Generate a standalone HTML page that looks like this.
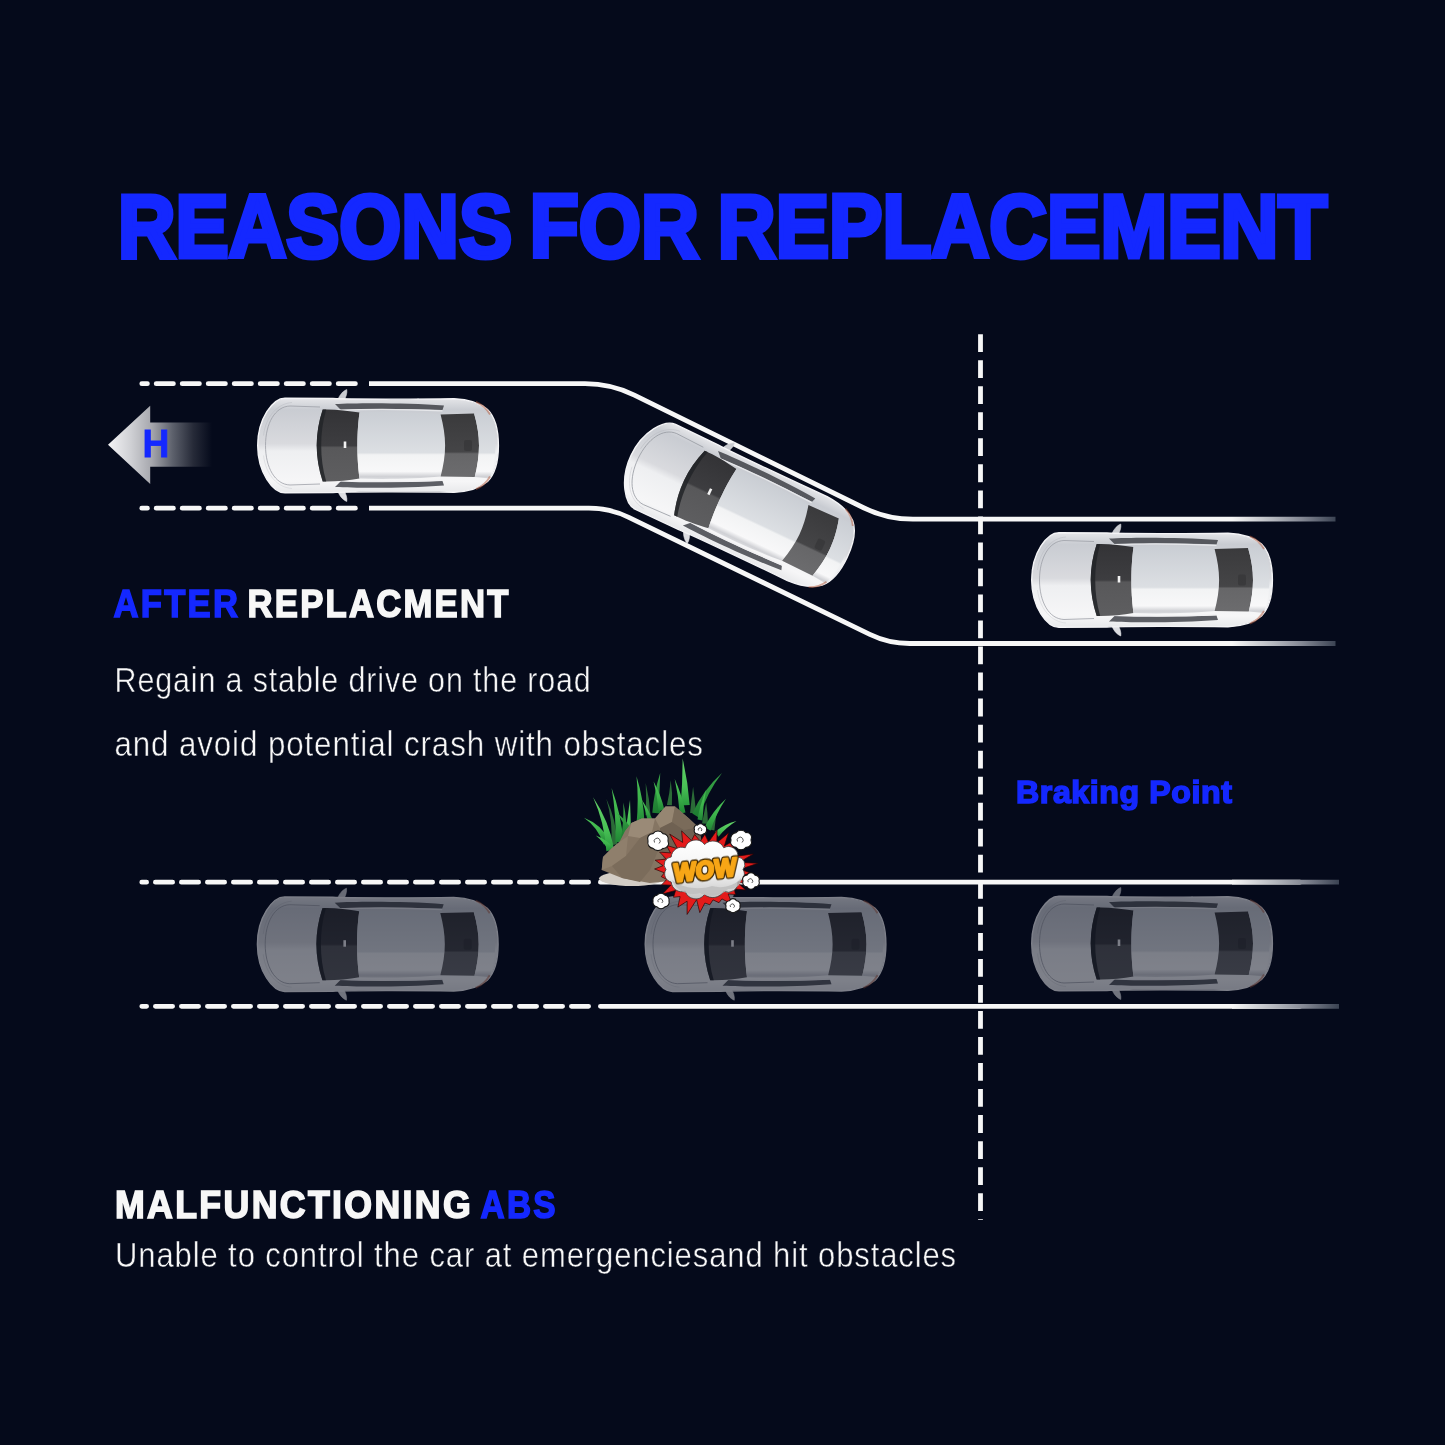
<!DOCTYPE html><html><head><meta charset="utf-8"><title>Reasons for replacement</title><style>html,body{margin:0;padding:0;background:#050a1b;}body{width:1445px;height:1445px;overflow:hidden;}svg{display:block;}text{font-family:"Liberation Sans",sans-serif;will-change:transform;}</style></head><body><svg width="1445" height="1445" viewBox="0 0 1445 1445"><defs><linearGradient id="fadeR" x1="1232" y1="0" x2="1336" y2="0" gradientUnits="userSpaceOnUse"><stop offset="0" stop-color="#f7f7f7"/><stop offset="0.4" stop-color="#b4b7be"/><stop offset="0.67" stop-color="#848894"/><stop offset="1" stop-color="#3a4252"/></linearGradient><linearGradient id="fadeR2" x1="1232" y1="0" x2="1339" y2="0" gradientUnits="userSpaceOnUse"><stop offset="0" stop-color="#f7f7f7"/><stop offset="0.4" stop-color="#b4b7be"/><stop offset="0.67" stop-color="#848894"/><stop offset="1" stop-color="#3a4252"/></linearGradient><linearGradient id="arrowG" x1="108" y1="0" x2="212" y2="0" gradientUnits="userSpaceOnUse"><stop offset="0" stop-color="#f4f4f6"/><stop offset="0.22" stop-color="#cfd0d4"/><stop offset="0.42" stop-color="#a6a7ad"/><stop offset="0.62" stop-color="#5d616c"/><stop offset="0.82" stop-color="#262a38"/><stop offset="1" stop-color="#050a1b"/></linearGradient><linearGradient id="cb" x1="0" y1="-47" x2="0" y2="47" gradientUnits="userSpaceOnUse"><stop offset="0" stop-color="#e4e5e8"/><stop offset="0.12" stop-color="#c9ccd2"/><stop offset="0.48" stop-color="#d9dade"/><stop offset="0.56" stop-color="#eeeff1"/><stop offset="0.88" stop-color="#f6f6f7"/><stop offset="1" stop-color="#e8e9eb"/></linearGradient><linearGradient id="cr" x1="0" y1="-36" x2="0" y2="36" gradientUnits="userSpaceOnUse"><stop offset="0" stop-color="#c9cdd3"/><stop offset="0.6" stop-color="#dcdfe3"/><stop offset="0.63" stop-color="#f2f3f4"/><stop offset="0.86" stop-color="#f8f8f9"/><stop offset="0.93" stop-color="#d0d1d5"/><stop offset="1" stop-color="#e0e1e4"/></linearGradient><linearGradient id="cg" x1="0" y1="-36" x2="0" y2="36" gradientUnits="userSpaceOnUse"><stop offset="0" stop-color="#333336"/><stop offset="0.5" stop-color="#3d3d40"/><stop offset="0.53" stop-color="#58585a"/><stop offset="1" stop-color="#5e5e60"/></linearGradient><linearGradient id="cw" x1="0" y1="-32" x2="0" y2="32" gradientUnits="userSpaceOnUse"><stop offset="0" stop-color="#3a3a3c"/><stop offset="0.6" stop-color="#454547"/><stop offset="0.63" stop-color="#666668"/><stop offset="1" stop-color="#6c6c6e"/></linearGradient><linearGradient id="cm" x1="0" y1="0" x2="1" y2="0"><stop offset="0" stop-color="#b9bcc2"/><stop offset="1" stop-color="#eeeff1"/></linearGradient><g id="car"><path d="M-40.5,-44.5 C-39.5,-49 -35.5,-54.5 -31.2,-56 C-30.6,-52.5 -32,-48 -34.5,-44.2 Z" fill="#c9cbd0" stroke="#e4e5e8" stroke-width="0.5"/><path d="M-40.5,44.5 C-39.5,49 -35.5,54.5 -31.2,56 C-30.6,52.5 -32,48 -34.5,44.2 Z" fill="#dcdde1" stroke="#eeeff1" stroke-width="0.5"/><path d="M-93,-47.3 C-105,-47.3 -120.3,-27 -120.3,0 C-120.3,27 -105,47.3 -93,47.3 L-45,47 C-30,46.2 40,46.2 76,46.8 C89,46.2 102,42.5 109.5,36 C117,28.5 120.4,14 120.4,0 C120.4,-14 117,-28.5 109.5,-36 C102,-42.5 89,-46.2 76,-46.8 C40,-46.2 -30,-46.2 -45,-47 Z" fill="url(#cb)" stroke="#f4f4f6" stroke-width="1.4"/><path d="M-58,-38.5 L-88,-39.5 C-103,-39 -112.5,-22 -112.5,0 C-112.5,22 -103,39 -88,39.5 L-58,38.5" fill="none" stroke="#9a9da4" stroke-width="0.9" opacity="0.85"/><path d="M-86,-43 C-100,-42 -112,-30 -114.5,-10" fill="none" stroke="#b5b8be" stroke-width="0.6" opacity="0.7"/><path d="M-86,43 C-100,42 -112,30 -114.5,10" fill="none" stroke="#c8cacf" stroke-width="0.6" opacity="0.7"/><path d="M-43,-41.5 C-20,-42.8 30,-42.8 66,-40 L64.5,-35.6 C30,-36.8 -10,-36.8 -37,-35.6 Z" fill="#56585e"/><path d="M-43,41.5 C-20,42.8 30,42.8 66,40 L64.5,35.6 C30,36.8 -10,36.8 -37,35.6 Z" fill="#5c5e64"/><path d="M-40,-35.2 C-15,-36.3 30,-36.3 64.5,-34.6" fill="none" stroke="#e6e7ea" stroke-width="1.4"/><path d="M-40,35.2 C-15,36.3 30,36.3 64.5,34.6" fill="none" stroke="#f0f0f2" stroke-width="1.4"/><path d="M-55.3,-36 C-59.3,-24 -61.3,-12 -61.3,0 C-61.3,12 -59.3,24 -55.3,36 C-45,36.5 -30,35 -18.5,33 C-20.2,20 -20.6,10 -20.6,0 C-20.6,-10 -20.2,-20 -18.5,-33 C-30,-35 -45,-36.5 -55.3,-36 Z" fill="url(#cg)"/><path d="M-55.3,-36 C-59.3,-24 -61.3,-12 -61.3,0 C-61.3,12 -59.3,24 -55.3,36 L-51.8,36 C-55.3,24 -56.8,12 -56.8,0 C-56.8,-12 -55.3,-24 -51.8,-36 Z" fill="#222428" opacity="0.85"/><path d="M-18.5,-33 C-20.2,-20 -20.6,-10 -20.6,0 C-20.6,10 -20.2,20 -18.5,33 C10,34 40,33 62.6,31 C65.5,20 67.1,10 67.1,0 C67.1,-10 65.5,-20 62.6,-31 C40,-33 10,-34 -18.5,-33 Z" fill="url(#cr)"/><path d="M62.6,-31.1 C65.5,-20 67.1,-10 67.1,0 C67.1,10 65.5,20 62.6,31 L96.8,31.6 C99.5,20 101,10 101,0 C101,-10 99.5,-20 96.1,-31.9 Z" fill="url(#cw)"/><rect x="86" y="-5.5" width="8" height="11" rx="2" fill="#333335" opacity="0.6"/><path d="M96.1,-31.9 C99.5,-20 101,-10 101,0 C101,10 99.5,20 96.8,31.6 L112,33 C116,22 117.5,10 117.5,0 C117.5,-10 116,-22 112,-33 Z" fill="url(#cr)"/><rect x="-34.3" y="-4" width="2.6" height="6.5" fill="#f2f2f2"/><path d="M98,-43.6 C104,-41 109,-36.5 112,-31" stroke="#b45a3c" stroke-width="1.8" fill="none" opacity="0.5"/><path d="M98,43.6 C104,41 109,36.5 112,31" stroke="#b45a3c" stroke-width="1.8" fill="none" opacity="0.5"/></g></defs><rect width="1445" height="1445" fill="#050a1b"/><text x="118.00" y="256.70" font-size="89.24" font-weight="bold" fill="#1428ff" stroke="#1428ff" stroke-width="5.00" textLength="394.04" lengthAdjust="spacingAndGlyphs">REASONS</text><text x="529.80" y="256.70" font-size="89.24" font-weight="bold" fill="#1428ff" stroke="#1428ff" stroke-width="5.00" textLength="169.00" lengthAdjust="spacingAndGlyphs">FOR</text><text x="717.80" y="256.70" font-size="89.24" font-weight="bold" fill="#1428ff" stroke="#1428ff" stroke-width="5.00" textLength="609.50" lengthAdjust="spacingAndGlyphs">REPLACEMENT</text><line x1="980.5" y1="334.2" x2="980.5" y2="1220" stroke="#f7f7f7" stroke-width="4.8" stroke-dasharray="17.8 8.23"/><path d="M141.80,383.70 H147.40M156.20,383.70 H173.40M182.20,383.70 H199.40M208.20,383.70 H225.40M234.20,383.70 H251.40M260.20,383.70 H277.40M286.20,383.70 H303.40M312.20,383.70 H329.40M338.20,383.70 H355.40" stroke="#f7f7f7" stroke-width="4.8" stroke-linecap="round" fill="none"/><path d="M141.80,508.20 H147.40M156.20,508.20 H173.40M182.20,508.20 H199.40M208.20,508.20 H225.40M234.20,508.20 H251.40M260.20,508.20 H277.40M286.20,508.20 H303.40M312.20,508.20 H329.40M338.20,508.20 H355.40" stroke="#f7f7f7" stroke-width="4.8" stroke-linecap="round" fill="none"/><path d="M369.0,383.70 L585.00,383.70 Q611.00,383.70 634.34,395.16 L863.56,507.74 Q886.90,519.20 912.90,519.20 L1335.5,519.20" stroke="url(#fadeR)" stroke-width="4.8" fill="none"/><path d="M369.0,508.20 L588.90,508.20 Q609.90,508.20 628.79,517.37 L869.81,634.33 Q888.70,643.50 909.70,643.50 L1335.5,643.50" stroke="url(#fadeR)" stroke-width="4.8" fill="none"/><path d="M141.80,882.20 H146.60M155.40,882.20 H172.60M181.40,882.20 H198.60M207.40,882.20 H224.60M233.40,882.20 H250.60M259.40,882.20 H276.60M285.40,882.20 H302.60M311.40,882.20 H328.60M337.40,882.20 H354.60M363.40,882.20 H380.60M389.40,882.20 H406.60M415.40,882.20 H432.60M441.40,882.20 H458.60M467.40,882.20 H484.60M493.40,882.20 H510.60M519.40,882.20 H536.60M545.40,882.20 H562.60M571.40,882.20 H588.60" stroke="#f7f7f7" stroke-width="4.8" stroke-linecap="round" fill="none"/><path d="M141.80,1006.30 H146.60M155.40,1006.30 H172.60M181.40,1006.30 H198.60M207.40,1006.30 H224.60M233.40,1006.30 H250.60M259.40,1006.30 H276.60M285.40,1006.30 H302.60M311.40,1006.30 H328.60M337.40,1006.30 H354.60M363.40,1006.30 H380.60M389.40,1006.30 H406.60M415.40,1006.30 H432.60M441.40,1006.30 H458.60M467.40,1006.30 H484.60M493.40,1006.30 H510.60M519.40,1006.30 H536.60M545.40,1006.30 H562.60M571.40,1006.30 H588.60" stroke="#f7f7f7" stroke-width="4.8" stroke-linecap="round" fill="none"/><path d="M600.4,882.2 H1300 M600.4,1006.3 H1300" stroke="#f7f7f7" stroke-width="4.8" stroke-linecap="round" fill="none"/><path d="M1232,882.2 H1339 M1232,1006.3 H1339" stroke="url(#fadeR2)" stroke-width="4.8" fill="none"/><path d="M108,444.8 L150.2,405.8 L150.2,422.4 L212,422.4 L212,466.8 L150.2,466.8 L150.2,483.9 Z" fill="url(#arrowG)"/><text x="142.40" y="457.30" font-size="39.24" font-weight="bold" fill="#1428ff" stroke="#1428ff" stroke-width="0.80" textLength="26.88" lengthAdjust="spacingAndGlyphs">H</text><use href="#car" transform="translate(378.00 445.50) rotate(0.00) scale(1.000)"/><use href="#car" transform="translate(739.06 506.40) rotate(25.28) scale(0.993)"/><use href="#car" transform="translate(1152.00 580.00) rotate(0.00) scale(1.000)"/><use href="#car" transform="translate(377.70 944.20) rotate(0.00) scale(1.000)" opacity="0.5"/><use href="#car" transform="translate(765.50 944.20) rotate(0.00) scale(1.000)" opacity="0.5"/><use href="#car" transform="translate(1152.00 943.50) rotate(0.00) scale(1.000)" opacity="0.5"/><defs><linearGradient id="cloudG" x1="0" y1="0" x2="0" y2="1"><stop offset="0" stop-color="#ffffff"/><stop offset="0.55" stop-color="#f2f2f2"/><stop offset="1" stop-color="#c4c4c4"/></linearGradient><linearGradient id="grassG" x1="0" y1="0" x2="0" y2="1"><stop offset="0" stop-color="#4cc456"/><stop offset="0.5" stop-color="#3db34b"/><stop offset="1" stop-color="#1f8534"/></linearGradient><linearGradient id="grassG2" x1="0" y1="0" x2="0" y2="1"><stop offset="0" stop-color="#66d46a"/><stop offset="0.6" stop-color="#48c055"/><stop offset="1" stop-color="#2a9a3e"/></linearGradient><linearGradient id="grassG3" x1="0" y1="0" x2="0" y2="1"><stop offset="0" stop-color="#3aa748"/><stop offset="1" stop-color="#1c7a30"/></linearGradient></defs><path d="M671.9,805.3 Q672.8,792.8 670.7,780.2 Q669.8,792.7 666.9,805.1 Z" fill="#2b6b37"/><path d="M696.1,813.1 Q694.9,800.0 693.1,786.8 Q691.3,800.0 690.1,813.1 Z" fill="#2b6b37"/><path d="M708.0,823.8 Q707.8,813.2 706.2,802.6 Q704.2,813.0 702.0,823.4 Z" fill="#2b6b37"/><path d="M617.2,844.2 Q616.6,820.6 606.3,798.7 Q613.1,821.2 611.2,845.2 Z" fill="#2b6b37"/><path d="M650.5,814.8 Q649.6,798.8 645.7,782.9 Q646.6,799.0 645.5,815.2 Z" fill="#2b6b37"/><path d="M714.4,830.6 Q715.3,818.1 718.0,806.0 Q712.3,817.3 709.6,829.4 Z" fill="#2b6b37"/><path d="M608.9,839.6 Q601.1,824.4 584.0,817.7 Q598.0,827.3 603.7,844.4 Z" fill="url(#grassG)"/><path d="M614.0,848.8 Q609.2,821.2 593.1,797.3 Q604.6,822.7 606.4,851.2 Z" fill="url(#grassG2)"/><path d="M623.4,841.4 Q621.1,814.2 611.6,788.1 Q616.4,814.9 615.4,842.6 Z" fill="url(#grassG)"/><path d="M626.4,842.0 Q627.6,822.3 623.4,802.6 Q624.0,822.3 620.4,842.0 Z" fill="url(#grassG3)"/><path d="M613.6,847.8 Q606.7,839.5 595.8,835.5 Q604.2,842.2 609.6,852.2 Z" fill="url(#grassG)"/><path d="M631.0,838.2 Q630.8,819.1 630.0,800.0 Q627.2,818.9 625.0,837.8 Z" fill="url(#grassG2)"/><path d="M644.5,823.3 Q643.7,799.5 636.5,776.3 Q638.9,799.9 636.5,823.9 Z" fill="url(#grassG)"/><path d="M660.3,813.5 Q658.6,793.1 660.2,773.0 Q653.9,792.6 652.3,812.7 Z" fill="url(#grassG3)"/><path d="M664.4,809.7 Q661.0,795.1 653.6,781.6 Q657.5,796.1 658.6,811.3 Z" fill="url(#grassG)"/><path d="M689.7,804.9 Q688.0,781.6 682.6,758.5 Q682.6,781.9 680.7,805.5 Z" fill="url(#grassG2)"/><path d="M685.5,812.4 Q682.1,795.2 674.7,778.9 Q678.6,796.0 679.7,813.8 Z" fill="url(#grassG)"/><path d="M699.1,817.8 Q706.6,793.0 722.0,773.0 Q702.5,790.5 692.3,813.6 Z" fill="url(#grassG3)"/><path d="M710.5,830.7 Q716.1,813.4 726.0,798.7 Q712.5,811.2 704.5,827.1 Z" fill="url(#grassG)"/><path d="M718.5,836.7 Q726.3,827.1 736.5,821.0 Q724.3,824.1 715.1,831.7 Z" fill="url(#grassG2)"/><path d="M702.5,820.5 Q703.0,805.0 706.0,790.0 Q700.0,804.4 697.5,819.5 Z" fill="url(#grassG)"/><path d="M634.5,834.3 Q627.9,821.4 616.0,812.0 Q624.9,823.4 629.5,837.7 Z" fill="url(#grassG3)"/><path d="M652.3,819.1 Q648.4,809.0 642.0,800.0 Q645.6,810.2 647.7,820.9 Z" fill="url(#grassG)"/><ellipse cx="632" cy="878.5" rx="33" ry="7.5" fill="#d3cdc6"/><path d="M601.7,870 L603,857 L612,848 L619.4,842 L625,831 L631.3,823 L641.8,818.4 L655,818.4 L665.5,806.5 L675,806.5 L689,818.4 L698,827 L702,842 L694,866 L670,881 L649.7,883 L622,878 Z" fill="#857563"/><path d="M631.3,823 L641.8,818.4 L655,818.4 L652,832 L640,838 L628,836 Z" fill="#9a8a77"/><path d="M655,818.4 L665.5,806.5 L675,806.5 L672,822 L660,828 Z" fill="#968672"/><path d="M675,806.5 L689,818.4 L698,827 L684,830 L672,822 Z" fill="#7a6b5a"/><path d="M603,857 L612,848 L619.4,842 L628,836 L626,856 L612,866 L601.7,870 Z" fill="#8f7f6c"/><path d="M626,856 L640,838 L652,832 L660,846 L650,870 L640,882 L622,878 L612,866 Z" fill="#7b6c5b"/><path d="M660,828 L672,822 L684,830 L698,827 L702,842 L694,866 L670,881 L660,846 Z" fill="#6f6152"/><path d="M750.6,873.0 L740.7,876.1 L755.7,883.1 L737.9,882.7 L745.5,889.9 L734.2,889.0 L735.5,894.5 L728.2,894.0 L732.1,904.2 L721.9,898.9 L719.0,902.7 L713.0,899.9 L709.8,904.8 L704.9,903.0 L699.8,912.6 L696.6,899.7 L687.1,914.4 L687.1,901.2 L677.9,907.1 L680.1,896.6 L673.5,897.3 L675.6,890.4 L662.4,894.1 L670.8,885.2 L661.7,884.7 L666.8,879.4 L661.3,876.7 L664.3,872.8 L654.6,869.0 L663.0,865.7 L655.2,860.2 L666.3,859.1 L659.6,852.1 L670.5,852.9 L666.4,845.3 L677.5,848.7 L669.7,834.1 L682.7,842.4 L681.6,830.9 L691.5,840.6 L694.6,834.5 L700.3,841.2 L704.9,834.3 L708.5,842.1 L717.0,830.1 L716.9,842.8 L728.5,832.9 L724.3,846.1 L739.5,837.4 L732.3,849.5 L736.1,851.7 L734.9,856.5 L753.3,853.9 L739.2,862.4 L757.8,863.3 L740.4,869.2 Z" fill="#e41b1b" stroke="#2a0505" stroke-width="0.7"/><path d="M743.0,869.5 A8.1,8.1 0 0 1 737.8,882.0 A9.6,9.6 0 0 1 723.8,891.2 A12.7,12.7 0 0 1 704.5,894.5 A11.0,11.0 0 0 1 685.2,891.2 A10.6,10.6 0 0 1 671.2,882.0 A8.2,8.2 0 0 1 666.0,869.5 A7.6,7.6 0 0 1 671.2,857.0 A10.5,10.5 0 0 1 685.2,847.8 A10.9,10.9 0 0 1 704.5,844.5 A12.0,12.0 0 0 1 723.8,847.8 A9.4,9.4 0 0 1 737.8,857.0 A7.6,7.6 0 0 1 743.0,869.5 Z" fill="url(#cloudG)" stroke="#3a3a3a" stroke-width="0.8"/><path d="M672,880 C676,892 690,896 700,893 C708,898 722,896 728,889 C736,890 742,884 741,878 C735,886 722,889 712,886 C700,890 684,889 672,880 Z" fill="#bdbdbd" opacity="0.8"/><text x="705" y="879" text-anchor="middle" font-family="Liberation Sans" font-weight="bold" font-size="26" textLength="63" lengthAdjust="spacingAndGlyphs" transform="translate(705 869) rotate(-6) skewX(-6) translate(-705 -869)" fill="#3a2400" stroke="#3a2400" stroke-width="5.2" stroke-linejoin="round">WOW</text><text x="705" y="879" text-anchor="middle" font-family="Liberation Sans" font-weight="bold" font-size="26" textLength="63" lengthAdjust="spacingAndGlyphs" transform="translate(705 869) rotate(-6) skewX(-6) translate(-705 -869)" fill="#f7a616" stroke="#f7a616" stroke-width="2.6" stroke-linejoin="round">WOW</text><path d="M668.0,841.0 A5.1,5.1 0 0 1 663.0,848.4 A6.8,6.8 0 0 1 653.0,848.4 A5.9,5.9 0 0 1 648.0,841.0 A5.2,5.2 0 0 1 653.0,833.6 A6.2,6.2 0 0 1 663.0,833.6 A5.5,5.5 0 0 1 668.0,841.0 Z" fill="#ffffff" stroke="#151515" stroke-width="1.1"/><path d="M654.5,842.5 a3.0,3.0 0 1 1 4.5,1.0" fill="none" stroke="#2a2a2a" stroke-width="0.8"/><path d="M706.5,829.5 A3.7,3.7 0 0 1 703.5,833.9 A4.2,4.2 0 0 1 697.5,833.9 A3.0,3.0 0 0 1 694.5,829.5 A3.0,3.0 0 0 1 697.5,825.1 A4.1,4.1 0 0 1 703.5,825.1 A3.5,3.5 0 0 1 706.5,829.5 Z" fill="#ffffff" stroke="#151515" stroke-width="1.1"/><path d="M698.4,830.4 a1.8,1.8 0 1 1 2.7,0.6" fill="none" stroke="#2a2a2a" stroke-width="0.8"/><path d="M751.0,840.0 A5.2,5.2 0 0 1 746.0,847.4 A6.3,6.3 0 0 1 736.0,847.4 A5.4,5.4 0 0 1 731.0,840.0 A5.7,5.7 0 0 1 736.0,832.6 A6.4,6.4 0 0 1 746.0,832.6 A5.0,5.0 0 0 1 751.0,840.0 Z" fill="#ffffff" stroke="#151515" stroke-width="1.1"/><path d="M737.5,841.5 a3.0,3.0 0 1 1 4.5,1.0" fill="none" stroke="#2a2a2a" stroke-width="0.8"/><path d="M759.0,881.0 A4.2,4.2 0 0 1 755.0,886.9 A4.5,4.5 0 0 1 747.0,886.9 A4.3,4.3 0 0 1 743.0,881.0 A4.1,4.1 0 0 1 747.0,875.1 A4.5,4.5 0 0 1 755.0,875.1 A4.3,4.3 0 0 1 759.0,881.0 Z" fill="#ffffff" stroke="#151515" stroke-width="1.1"/><path d="M748.2,882.2 a2.4,2.4 0 1 1 3.6,0.8" fill="none" stroke="#2a2a2a" stroke-width="0.8"/><path d="M669.0,901.0 A4.6,4.6 0 0 1 665.0,906.9 A5.3,5.3 0 0 1 657.0,906.9 A4.8,4.8 0 0 1 653.0,901.0 A4.9,4.9 0 0 1 657.0,895.1 A5.3,5.3 0 0 1 665.0,895.1 A4.9,4.9 0 0 1 669.0,901.0 Z" fill="#ffffff" stroke="#151515" stroke-width="1.1"/><path d="M658.2,902.2 a2.4,2.4 0 1 1 3.6,0.8" fill="none" stroke="#2a2a2a" stroke-width="0.8"/><path d="M740.0,906.0 A4.2,4.2 0 0 1 736.5,911.2 A4.7,4.7 0 0 1 729.5,911.2 A3.9,3.9 0 0 1 726.0,906.0 A3.7,3.7 0 0 1 729.5,900.8 A3.9,3.9 0 0 1 736.5,900.8 A4.0,4.0 0 0 1 740.0,906.0 Z" fill="#ffffff" stroke="#151515" stroke-width="1.1"/><path d="M730.5,907.0 a2.1,2.1 0 1 1 3.1,0.7" fill="none" stroke="#2a2a2a" stroke-width="0.8"/><text x="113.60" y="617.00" font-size="38.95" font-weight="bold" fill="#1428ff" stroke="#1428ff" stroke-width="1.60" letter-spacing="2.50" textLength="126.55" lengthAdjust="spacingAndGlyphs">AFTER</text><text x="247.60" y="617.00" font-size="38.95" font-weight="bold" fill="#f7f7f7" stroke="#f7f7f7" stroke-width="1.60" letter-spacing="2.50" textLength="263.04" lengthAdjust="spacingAndGlyphs">REPLACMENT</text><text x="114.60" y="691.90" font-size="34.30" font-weight="normal" fill="#f7f7f7" stroke="#050a1b" stroke-width="0.50" letter-spacing="1.00" textLength="477.05" lengthAdjust="spacingAndGlyphs">Regain a stable drive on the road</text><text x="114.40" y="755.70" font-size="34.59" font-weight="normal" fill="#f7f7f7" stroke="#050a1b" stroke-width="0.50" letter-spacing="1.00" textLength="589.52" lengthAdjust="spacingAndGlyphs">and avoid potential crash with obstacles</text><text x="1016.00" y="802.70" font-size="31.83" font-weight="bold" fill="#1428ff" stroke="#1428ff" stroke-width="1.60" letter-spacing="0.60" textLength="216.51" lengthAdjust="spacingAndGlyphs">Braking Point</text><text x="115.00" y="1217.70" font-size="37.94" font-weight="bold" fill="#f7f7f7" stroke="#f7f7f7" stroke-width="1.60" letter-spacing="2.50" textLength="358.08" lengthAdjust="spacingAndGlyphs">MALFUNCTIONING</text><text x="480.60" y="1217.70" font-size="37.94" font-weight="bold" fill="#1428ff" stroke="#1428ff" stroke-width="1.60" letter-spacing="2.50" textLength="77.09" lengthAdjust="spacingAndGlyphs">ABS</text><text x="115.00" y="1266.70" font-size="34.30" font-weight="normal" fill="#f7f7f7" stroke="#050a1b" stroke-width="0.50" letter-spacing="1.00" textLength="842.02" lengthAdjust="spacingAndGlyphs">Unable to control the car at emergenciesand hit obstacles</text></svg></body></html>
